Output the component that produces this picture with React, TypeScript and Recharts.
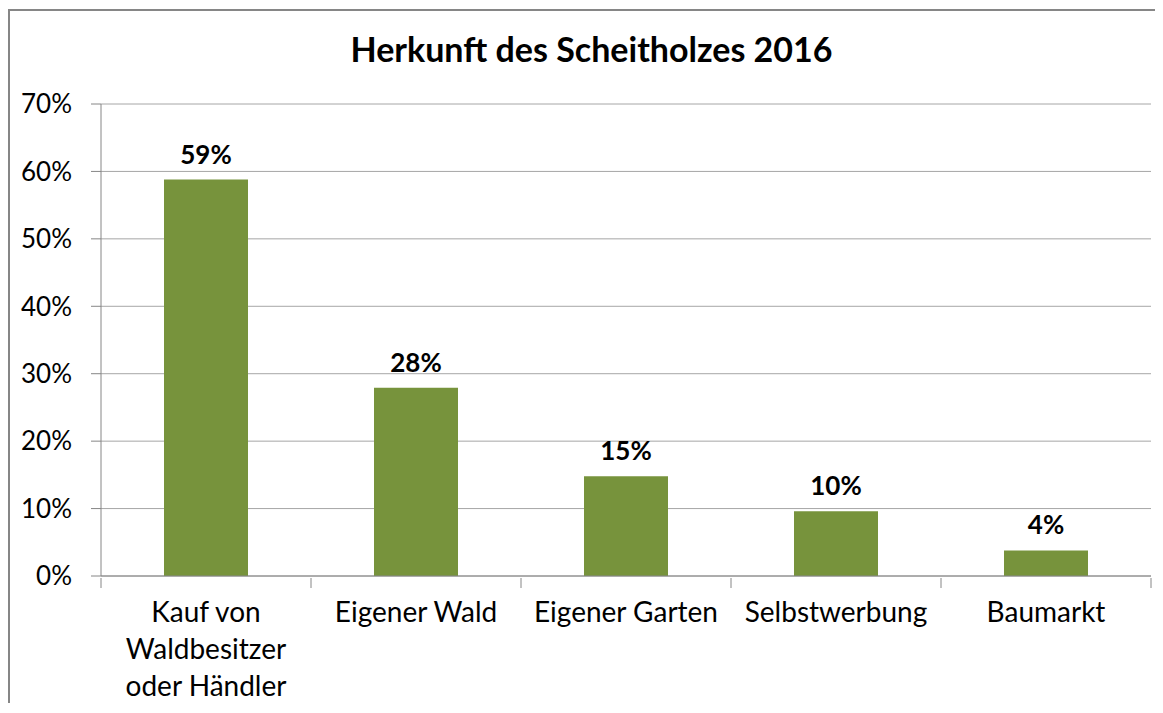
import { BarChart, Bar, XAxis, YAxis, CartesianGrid, LabelList } from 'recharts'

const categories = [
  'Kauf von Waldbesitzer oder Händler',
  'Eigener Wald',
  'Eigener Garten',
  'Selbstwerbung',
  'Baumarkt'
]
const shares = [58.8, 27.9, 14.8, 9.6, 3.8]
const yTicks = [0, 10, 20, 30, 40, 50, 60, 70]

const data = categories.map((name, i) => ({ name, value: shares[i] }))

const FONT = 'Lato, "Open Sans", sans-serif'
const AXIS = '#868686'
const GRID = '#a6a6a6'
const BAR = '#77933c'

// greedy word wrap by character count
const wrap = (s: string, max = 14) => {
  const lines: string[] = []
  let cur = ''
  for (const w of s.split(' ')) {
    const next = cur ? cur + ' ' + w : w
    if (next.length > max && cur) {
      lines.push(cur)
      cur = w
    } else {
      cur = next
    }
  }
  if (cur) lines.push(cur)
  return lines
}

// category label plus the Excel-style tick marks on the band edges
const CategoryTick = ({ x, y, payload, index, visibleTicksCount }: any) => {
  const half = payload.offset || 105
  const lines = wrap(String(payload.value))
  return (
    <g>
      <line x1={x - half} x2={x - half} y1={y} y2={y + 10} stroke={AXIS} />
      {index === visibleTicksCount - 1 && (
        <line x1={x + half} x2={x + half} y1={y} y2={y + 10} stroke={AXIS} />
      )}
      <text x={x} y={y + 44} textAnchor="middle" fill="#000" fontSize={28} fontFamily={FONT}>
        {lines.map((l, i) => (
          <tspan key={i} x={x} dy={i === 0 ? 0 : 37}>
            {l}
          </tspan>
        ))}
      </text>
    </g>
  )
}

export default function App() {
  return (
    <div
      style={{
        position: 'relative',
        width: 1150,
        height: 692,
        marginTop: 1,
        borderLeft: `2px solid ${AXIS}`,
        borderTop: `2px solid ${AXIS}`,
        fontFamily: FONT
      }}
    >
      <div
        style={{
          position: 'absolute',
          left: 0,
          top: 17,
          width: 1163,
          textAlign: 'center',
          fontSize: 34,
          fontWeight: 700,
          color: '#000'
        }}
      >
        Herkunft des Scheitholzes 2016
      </div>
      <BarChart
        width={1150}
        height={692}
        data={data}
        margin={{ top: 93, right: 9, bottom: 0, left: 0 }}
        barSize={84}
      >
        <CartesianGrid vertical={false} stroke={GRID} />
        <XAxis
          dataKey="name"
          height={127}
          axisLine={{ stroke: AXIS }}
          tickLine={false}
          tickSize={0}
          interval={0}
          tick={<CategoryTick />}
        />
        <YAxis
          width={91}
          domain={[0, 70]}
          ticks={yTicks}
          tickFormatter={(v: number) => `${v}%`}
          axisLine={{ stroke: AXIS }}
          tickLine={{ stroke: AXIS }}
          tickSize={10}
          tickMargin={19}
          tick={{ fill: '#000', fontSize: 26, fontFamily: FONT }}
        />
        <Bar dataKey="value" fill={BAR} isAnimationActive={false}>
          <LabelList
            dataKey="value"
            position="top"
            offset={16}
            formatter={(v: any) => `${Math.round(Number(v))}%`}
            style={{ fill: '#000', fontSize: 26, fontWeight: 700, fontFamily: FONT }}
          />
        </Bar>
      </BarChart>
    </div>
  )
}
